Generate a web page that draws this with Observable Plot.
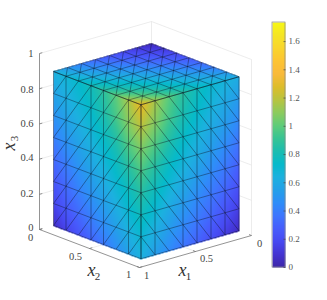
<!DOCTYPE html>
<html>
<head>
<meta charset="utf-8">
<style>html,body{margin:0;padding:0;background:#fff}</style>
<script src="https://cdn.jsdelivr.net/npm/d3@7"></script>
<script src="https://cdn.jsdelivr.net/npm/@observablehq/plot@0.6"></script>
</head>
<body>
<div id="chart"></div>
<script>
// Nodal values, mesh spacing 1/8, indices 0..7
// face x1 = 7/8: rows x3 (bottom to top), columns x2
const faceX1 = [
 [.07,.16,.24,.31,.38,.46,.55,.64],
 [.17,.26,.33,.40,.47,.55,.64,.70],
 [.25,.33,.41,.48,.55,.63,.71,.78],
 [.32,.40,.48,.55,.62,.70,.78,.86],
 [.40,.48,.55,.62,.69,.77,.87,.96],
 [.48,.55,.62,.68,.76,.85,.98,1.07],
 [.56,.62,.68,.74,.83,.95,1.09,1.19],
 [.64,.68,.73,.79,.88,1.00,1.16,1.32]
];
// face x2 = 7/8: rows x3 (bottom to top), columns x1
const faceX2 = [
 [.06,.14,.22,.30,.37,.45,.54,.64],
 [.14,.23,.31,.38,.45,.53,.62,.70],
 [.22,.31,.38,.45,.53,.61,.70,.78],
 [.29,.38,.45,.53,.61,.69,.78,.86],
 [.36,.45,.53,.61,.68,.76,.86,.96],
 [.44,.53,.60,.67,.75,.85,.97,1.07],
 [.52,.59,.66,.73,.82,.94,1.08,1.19],
 [.61,.66,.71,.78,.87,.99,1.15,1.32]
];
// face x3 = 7/8: rows x1, columns x2
const faceX3 = [
 [.04,.11,.18,.25,.32,.40,.50,.61],
 [.11,.18,.25,.32,.40,.48,.57,.66],
 [.18,.25,.32,.40,.48,.56,.64,.71],
 [.25,.32,.40,.48,.56,.64,.71,.78],
 [.32,.40,.48,.56,.64,.72,.79,.87],
 [.40,.48,.56,.64,.72,.80,.88,.99],
 [.50,.57,.64,.71,.79,.88,1.00,1.15],
 [.64,.68,.73,.79,.88,1.00,1.16,1.32]
];
const colLeft = [0,1,3,4,6,7];      // x2 indices with a vertical mesh line
const colRight = [0,1,2,3,4,6,7];   // x1 indices with a vertical mesh line
const zTicks = [0,0.2,0.4,0.6,0.8,1];
const zLabels = ["0","0.2","0.4","0.6","0.8","1"];
const hTicks = [0,0.5,1];
const hLabels = ["0","0.5","1"];
const cTicks = [0,0.2,0.4,0.6,0.8,1,1.2,1.4,1.6];
const cLabels = ["0","0.2","0.4","0.6","0.8","1","1.2","1.4","1.6"];
const uMax = 1.735;
const parula = ["#3e26a8","#4433d1","#4748f1","#475cfc","#3e75fe","#2f8df9","#24a0e9","#1cb1df",
  "#06bacb","#1bbdb0","#37c494","#5fcc7a","#8ccb5e","#b8c440","#ddbd2a","#f9ba3b","#fdc433","#f9d52c","#f5e525","#f7f714"];

// Orthographic view of the 3-D axes
const O = [151,197], A = [-112,32], B = [100,38], C = -176;
const S = 7/8, N = 8;
const P = (x1,x2,x3) => [O[0]+A[0]*x1+B[0]*x2, O[1]+A[1]*x1+B[1]*x2+C*x3];
const seg = (p,q,kind) => { const a=P(...p), b=P(...q); return {x1:a[0],y1:a[1],x2:b[0],y2:b[1],kind}; };

function bil(t,r,c){
  const g=v=>v*N, R=Math.max(0,Math.min(6.9999,g(r))), Q=Math.max(0,Math.min(6.9999,g(c)));
  const i=Math.floor(R), j=Math.floor(Q), f=R-i, h=Q-j;
  return t[i][j]*(1-f)*(1-h)+t[i+1][j]*f*(1-h)+t[i][j+1]*(1-f)*h+t[i+1][j+1]*f*h;
}
const eps=1e-9, inR=v=>v>=-eps-0.004&&v<=S+0.004;
function field(x,y){
  // top face
  const dx=x-O[0], dy=y-(O[1]+C*S), det=A[0]*B[1]-A[1]*B[0];
  const t1=(dx*B[1]-dy*B[0])/det, t2=(A[0]*dy-A[1]*dx)/det;
  if(inR(t1)&&inR(t2)) return bil(faceX3,t1,t2);
  // face x1 = S
  let u2=(x-O[0]-A[0]*S)/B[0], u3=(y-O[1]-A[1]*S-B[1]*u2)/C;
  if(inR(u2)&&inR(u3)) return bil(faceX1,u3,u2);
  // face x2 = S
  let v1=(x-O[0]-B[0]*S)/A[0], v3=(y-O[1]-B[1]*S-A[1]*v1)/C;
  if(inR(v1)&&inR(v3)) return bil(faceX2,v3,v1);
  return NaN;
}

// faint box and grid
const box=[
 seg([1,0,1],[0,0,1]), seg([0,0,1],[0,1,1]), seg([0,1,1],[0,1,0]),
 seg([0,0,1],[0,0,S]),
 seg([.5,0,0],[.5,1,0]), seg([0,.5,0],[1,.5,0])
];
zTicks.slice(1,5).forEach(z=>{box.push(seg([1,0,z],[0,0,z]));box.push(seg([0,0,z],[0,1,z]));});

// dark axes
const axes=[seg([1,0,0],[1,0,1]),seg([1,0,0],[1,1,0]),seg([1,1,0],[0,1,0])];
zTicks.forEach(z=>axes.push(seg([1,0,z],[.975,0,z])));
hTicks.forEach(h=>{axes.push(seg([1,h,0],[.975,h,0]));axes.push(seg([h,1,0],[h,.975,0]));});

// mesh on the three faces
const mesh=[], h=1/N;
for(let k=0;k<N;k++){
  mesh.push(seg([S,0,k*h],[S,S,k*h]));
  mesh.push(seg([0,S,k*h],[S,S,k*h]));
  mesh.push(seg([k*h,0,S],[k*h,S,S]));
  mesh.push(seg([0,k*h,S],[S,k*h,S]));
}
colLeft.forEach(i=>mesh.push(seg([S,i*h,0],[S,i*h,S])));
colRight.forEach(i=>mesh.push(seg([i*h,S,0],[i*h,S,S])));
for(let i=0;i<7;i++)for(let k=0;k<7;k++){
  mesh.push(seg([S,i*h,k*h],[S,(i+1)*h,(k+1)*h]));
  mesh.push(seg([i*h,S,k*h],[(i+1)*h,S,(k+1)*h]));
  mesh.push(seg([i*h,k*h,S],[(i+1)*h,(k+1)*h,S]));
}

// tick labels
const serif="'Liberation Serif',serif", ink="#444";
const zT=zTicks.map((z,i)=>({x:33,y:[227,193,157,123,89,53][i],t:zLabels[i]}));
const x2T=hTicks.map((v,i)=>({x:[30,75,128][i],y:[237,256,274.5][i],t:hLabels[i]}));
const x1T=hTicks.map((v,i)=>({x:[259,206,146][i],y:[243,258,275][i],t:hLabels[i]}));
const cY=v=>267-v*245/uMax;

const plot=Plot.plot({
  width:327,height:300,margin:0,
  x:{domain:[0,327],range:[0,327],axis:null},
  y:{domain:[0,300],range:[0,300],axis:null},
  color:{type:"linear",domain:[0,uMax],interpolate:d3.piecewise(d3.interpolateRgb,parula)},
  style:{background:"#fff"},
  marks:[
    Plot.link(box,{x1:"x1",y1:"y1",x2:"x2",y2:"y2",stroke:"#e4e4e4",strokeWidth:.7}),
    Plot.link(axes,{x1:"x1",y1:"y1",x2:"x2",y2:"y2",stroke:"#666",strokeWidth:.7}),
    Plot.raster({fill:field,x1:0,x2:327,y1:0,y2:300,pixelSize:1,imageRendering:"auto"}),
    Plot.link(mesh,{x1:"x1",y1:"y1",x2:"x2",y2:"y2",stroke:"#0c1020",strokeWidth:.55,strokeOpacity:.75}),
    Plot.text(zT,{x:"x",y:"y",text:"t",textAnchor:"end",fontFamily:serif,fontSize:10.5,fill:ink}),
    Plot.text(x2T,{x:"x",y:"y",text:"t",fontFamily:serif,fontSize:10.5,fill:ink}),
    Plot.text(x1T,{x:"x",y:"y",text:"t",fontFamily:serif,fontSize:10.5,fill:ink}),
    Plot.text([{x:91,y:270,t:"x"},{x:182,y:270,t:"x"}],{x:"x",y:"y",text:"t",fontFamily:serif,fontStyle:"italic",fontSize:18,fill:"#333"}),
    Plot.text([{x:97,y:276,t:"2"},{x:188,y:276,t:"1"}],{x:"x",y:"y",text:"t",fontFamily:serif,fontSize:11,fill:"#333"}),
    Plot.text([{x:9,y:146,t:"x"}],{x:"x",y:"y",text:"t",rotate:-90,fontFamily:serif,fontStyle:"italic",fontSize:18,fill:"#333"}),
    Plot.text([{x:14,y:138,t:"3"}],{x:"x",y:"y",text:"t",rotate:-90,fontFamily:serif,fontSize:11,fill:"#333"}),
    // colour bar
    Plot.raster({fill:(x,y)=>(267-y)*uMax/245,x1:272,x2:285,y1:22,y2:267,width:13,height:245}),
    Plot.rect([{}],{x1:()=>272,x2:()=>285,y1:()=>22,y2:()=>267,fill:"none",stroke:"#888",strokeWidth:.7}),
    Plot.link(cTicks,{x1:()=>283,x2:()=>285,y1:cY,y2:cY,stroke:"#444",strokeWidth:.7}),
    Plot.text(cTicks,{x:()=>288,y:cY,text:(d,i)=>cLabels[i],textAnchor:"start",fontFamily:serif,fontSize:9,fill:"#555"})
  ]
});
document.getElementById("chart").appendChild(plot);
</script>
</body>
</html>
